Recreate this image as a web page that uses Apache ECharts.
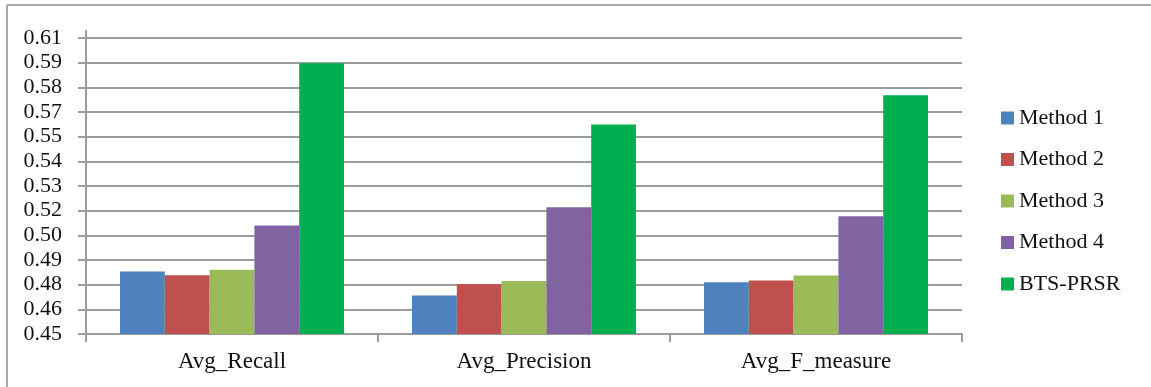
<!DOCTYPE html>
<html>
<head>
<meta charset="utf-8">
<title>Average recall, precision and F-measure by method</title>
<script src="https://cdn.jsdelivr.net/npm/echarts@6/dist/echarts.min.js"></script>
<style>
  html, body { margin: 0; padding: 0; background: #ffffff; }
  #chart { width: 1151px; height: 387px; }
</style>
</head>
<body>
<div id="chart"></div>
<script>
// Metric groups along the x axis
const categories = ['Avg_Recall', 'Avg_Precision', 'Avg_F_measure'];

// Method names (legend order)
const methodNames = ['Method 1', 'Method 2', 'Method 3', 'Method 4', 'BTS-PRSR'];

// Scores per method, one value per metric group
const method1 = [0.4838, 0.4708, 0.4780];
const method2 = [0.4818, 0.4770, 0.4789];
const method3 = [0.4847, 0.4787, 0.4816];
const method4 = [0.5086, 0.5185, 0.5136];
const btsPrsr = [0.5963, 0.5632, 0.5791];

// Value-axis range and the tick labels shown on its 12 equal steps (bottom to top)
const valueMin = 0.45;
const valueMax = 0.61;
const tickLabels = ['0.45', '0.46', '0.48', '0.49', '0.50', '0.52', '0.53',
                    '0.54', '0.55', '0.57', '0.58', '0.59', '0.61'];

const seriesValues = [method1, method2, method3, method4, btsPrsr];
const colors = ['#4f81bd', '#c0504d', '#9bbb59', '#8064a2', '#00b050'];

const textFont = '"Liberation Serif", "DejaVu Serif", serif';
const textColor = '#111111';
const gridColor = '#9c9c9c';

const chart = echarts.init(document.getElementById('chart'), null, { renderer: 'canvas' });

chart.setOption({
  animation: false,
  backgroundColor: '#ffffff',
  color: colors,
  grid: { left: 86, right: 189, top: 38, bottom: 53, containLabel: false },
  legend: {
    orient: 'vertical',
    left: 996,
    top: 102,
    itemWidth: 13,
    itemHeight: 13,
    itemGap: 19.5,
    icon: 'rect',
    data: methodNames,
    textStyle: { fontFamily: textFont, fontSize: 22, color: textColor, lineHeight: 22 }
  },
  xAxis: {
    type: 'category',
    data: categories,
    axisLine: { show: true, lineStyle: { color: gridColor, width: 2 } },
    axisTick: { show: true, alignWithLabel: false, length: 8, lineStyle: { color: gridColor, width: 2 } },
    axisLabel: { fontFamily: textFont, fontSize: 23, color: textColor, margin: 16 },
    splitLine: { show: false }
  },
  yAxis: [
    {
      // visible scale: 12 equal steps carrying the printed tick labels
      type: 'value',
      min: 0,
      max: tickLabels.length - 1,
      interval: 1,
      axisLine: { show: true, lineStyle: { color: gridColor, width: 2 } },
      axisTick: { show: true, inside: false, length: 8, lineStyle: { color: gridColor, width: 2 } },
      axisLabel: {
        fontFamily: textFont, fontSize: 22, color: textColor, margin: 24,
        formatter: function (v) { return tickLabels[Math.round(v)] || ''; }
      },
      splitLine: { show: true, lineStyle: { color: gridColor, width: 2 } }
    },
    {
      // data scale spanning the same plot height
      type: 'value',
      min: valueMin,
      max: valueMax,
      show: false,
      splitLine: { show: false }
    }
  ],
  series: methodNames.map(function (name, i) {
    return {
      name: name,
      type: 'bar',
      yAxisIndex: 1,
      data: seriesValues[i],
      barGap: '0%',
      barCategoryGap: '23.3%',
      itemStyle: { color: colors[i] }
    };
  }),
  graphic: [
    // frame lines along the top and left edges
    { type: 'line', shape: { x1: 7, y1: 5, x2: 1151, y2: 5 }, style: { stroke: '#a8a8a8', lineWidth: 2 } },
    { type: 'line', shape: { x1: 7, y1: 5, x2: 7, y2: 387 }, style: { stroke: '#a8a8a8', lineWidth: 2 } },
    // value axis line continuing a little above the top gridline
    { type: 'line', shape: { x1: 86, y1: 30, x2: 86, y2: 38 }, style: { stroke: gridColor, lineWidth: 2 } }
  ]
});
</script>
</body>
</html>
